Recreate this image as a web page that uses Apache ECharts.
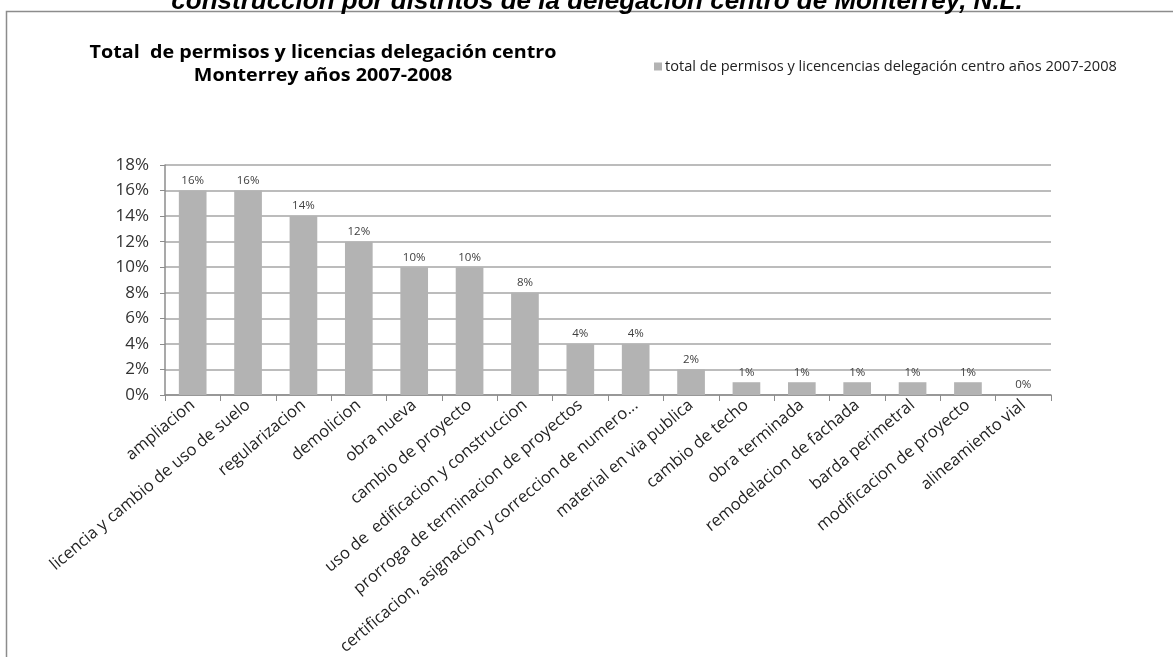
<!DOCTYPE html>
<html>
<head>
<meta charset="utf-8">
<script src="https://cdn.jsdelivr.net/npm/echarts@6/dist/echarts.min.js"></script>
<style>
html,body{margin:0;padding:0;background:#fff;}
#chart{width:1173px;height:657px;}
</style>
</head>
<body>
<div id="chart"></div>
<script>
const categories = [
  'ampliacion',
  'licencia y cambio de uso de suelo',
  'regularizacion',
  'demolicion',
  'obra nueva',
  'cambio de proyecto',
  'uso de  edificacion y construccion',
  'prorroga de terminacion de proyectos',
  'certificacion, asignacion y correccion de numero...',
  'material en via publica',
  'cambio de techo',
  'obra terminada',
  'remodelacion de fachada',
  'barda perimetral',
  'modificacion de proyecto',
  'alineamiento vial'
];
const values = [16, 16, 14, 12, 10, 10, 8, 4, 4, 2, 1, 1, 1, 1, 1, 0];
const seriesName = 'total de permisos y licencencias delegación centro años 2007-2008';
const titleLines = ['Total  de permisos y licencias delegación centro', 'Monterrey años 2007-2008'];
const headingText = 'construcción por distritos de la delegación centro de Monterrey, N.L.';
const yTicks = { min: 0, max: 18, interval: 2 };

const FONT = '"Open Sans", "Noto Sans", sans-serif';
const chart = echarts.init(document.getElementById('chart'), null, { renderer: 'canvas' });

chart.setOption({
  backgroundColor: '#ffffff',
  animation: false,
  graphic: [
    {
      type: 'rect', z: 0, silent: true,
      shape: { x: 6.5, y: 11.5, width: 1300, height: 800 },
      style: { fill: 'none', stroke: '#8c8c8c', lineWidth: 1.5 }
    },
    {
      type: 'text', x: 597, y: 2, z: 10,
      style: {
        text: headingText, align: 'center', verticalAlign: 'middle',
        font: 'italic bold 26px "Liberation Sans", Arial, sans-serif', fill: '#000'
      }
    },
    {
      type: 'text', x: 323, y: 53, z: 10, scaleX: 1.16,
      style: {
        text: titleLines[0], align: 'center', verticalAlign: 'middle',
        font: 'bold 17px ' + FONT, fill: '#000'
      }
    },
    {
      type: 'text', x: 323, y: 76, z: 10, scaleX: 1.16,
      style: {
        text: titleLines[1], align: 'center', verticalAlign: 'middle',
        font: 'bold 17px ' + FONT, fill: '#000'
      }
    }
  ],
  legend: {
    left: 649, top: 54,
    icon: 'rect', itemWidth: 8, itemHeight: 8, itemGap: 5,
    textStyle: { fontFamily: FONT, fontSize: 14.6, color: '#222', padding: [0, 0, 0, -2] },
    data: [seriesName]
  },
  grid: { left: 165, right: 122, top: 165, bottom: 262, containLabel: false, outerBoundsMode: 'none' },
  xAxis: {
    type: 'category',
    data: categories,
    boundaryGap: true,
    axisLine: { show: true, lineStyle: { color: '#8c8c8c', width: 1.5 } },
    axisTick: { show: true, alignWithLabel: false, length: 6, lineStyle: { color: '#8c8c8c', width: 1 } },
    axisLabel: {
      interval: 0, rotate: 40, margin: 8, hideOverlap: false,
      fontFamily: FONT, fontSize: 16.5, color: '#222'
    },
    splitLine: { show: false }
  },
  yAxis: {
    type: 'value',
    min: yTicks.min, max: yTicks.max, interval: yTicks.interval,
    axisLine: { show: true, lineStyle: { color: '#8c8c8c', width: 1.5 } },
    axisTick: { show: true, length: 5, lineStyle: { color: '#8c8c8c', width: 1 } },
    axisLabel: { formatter: '{value}%', fontFamily: FONT, fontSize: 17, color: '#333', margin: 16 },
    splitLine: { show: true, lineStyle: { color: '#a6a6a6', width: 1.5 } }
  },
  series: [{
    name: seriesName,
    type: 'bar',
    data: values,
    barCategoryGap: '50%',
    itemStyle: { color: '#b3b3b3' },
    label: {
      show: true, position: 'top', distance: 4,
      formatter: '{c}%', fontFamily: FONT, fontSize: 11.5, color: '#404040'
    }
  }]
});
</script>
</body>
</html>
